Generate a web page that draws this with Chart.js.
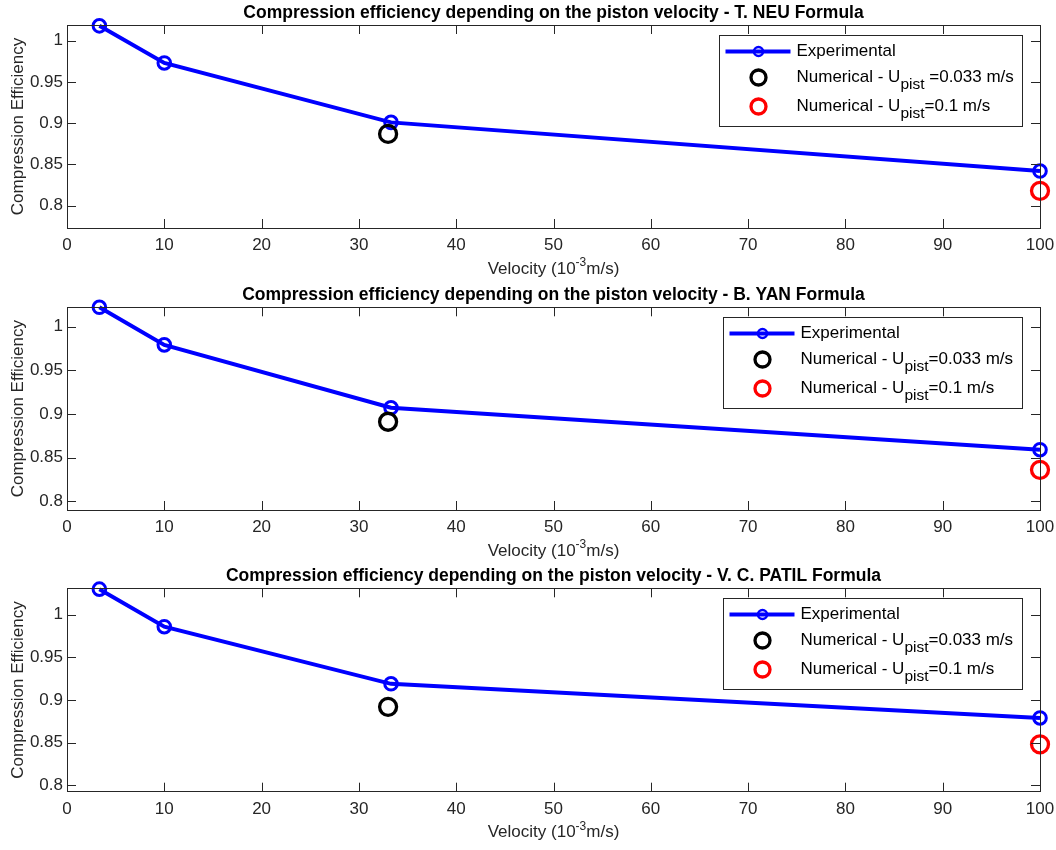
<!DOCTYPE html>
<html>
<head>
<meta charset="utf-8">
<script src="https://cdn.jsdelivr.net/npm/chart.js@4.4.1/dist/chart.umd.min.js"></script>
<style>
  body { margin: 0; background: #fff; }
  canvas { display: block; }
</style>
</head>
<body>
<canvas id="neu" width="1056" height="285"></canvas>
<canvas id="yan" width="1056" height="280"></canvas>
<canvas id="patil" width="1056" height="285"></canvas>
<script>
// piston velocity (10^-3 m/s)
const velocity = [3.33, 10, 33.3, 100];
const expNeu = [1.018, 0.973, 0.901, 0.842];
const expYan = [1.022, 0.979, 0.907, 0.859];
const expPatil = [1.030, 0.986, 0.919, 0.879];

// numerical results, one value per formula (NEU, YAN, PATIL)
const slowVelocity = 33;
const fastVelocity = 100;
const numSlow = [0.887, 0.891, 0.892];
const numFast = [0.818, 0.836, 0.848];

const xTicks = [0, 10, 20, 30, 40, 50, 60, 70, 80, 90, 100];
const yTicks = [0.8, 0.85, 0.9, 0.95, 1];

const titles = [
    "Compression efficiency depending on the piston velocity - T. NEU Formula",
    "Compression efficiency depending on the piston velocity - B. YAN Formula",
    "Compression efficiency depending on the piston velocity - V. C. PATIL Formula"
];
const slowLabels = ["=0.033 m/s", "=0.033 m/s", "=0.033 m/s"];
const slowGap = [true, false, false];   // first plot has a space before "="

const FONT = "'Liberation Sans', Arial, Helvetica, sans-serif";
const AXIS_COLOR = "#262626";
Chart.defaults.font.family = FONT;

// draws box, inward ticks, titles and the legend the way matlab does
const matlabAxes = {
    id: "matlabAxes",
    afterDraw(chart, args, opts) {
        const ctx = chart.ctx;
        const a = chart.chartArea;
        const xs = chart.scales.x, ys = chart.scales.y;
        ctx.save();
        ctx.strokeStyle = AXIS_COLOR;
        ctx.lineWidth = 1;
        ctx.strokeRect(Math.round(a.left) + 0.5, Math.round(a.top) + 0.5,
                       Math.round(a.right - a.left), Math.round(a.bottom - a.top));
        ctx.beginPath();
        xTicks.forEach(v => {
            const px = Math.round(xs.getPixelForValue(v)) + 0.5;
            ctx.moveTo(px, a.bottom); ctx.lineTo(px, a.bottom - 9);
            ctx.moveTo(px, a.top); ctx.lineTo(px, a.top + 9);
        });
        yTicks.forEach(v => {
            const py = Math.round(ys.getPixelForValue(v)) + 0.5;
            ctx.moveTo(a.left, py); ctx.lineTo(a.left + 9, py);
            ctx.moveTo(a.right, py); ctx.lineTo(a.right - 9, py);
        });
        ctx.stroke();

        const cx = (a.left + a.right) / 2;
        // title
        ctx.fillStyle = "#000";
        ctx.font = "bold 17.5px " + FONT;
        ctx.textAlign = "center";
        ctx.textBaseline = "middle";
        ctx.fillText(opts.title, cx, a.top - 12);

        // y label
        ctx.fillStyle = AXIS_COLOR;
        ctx.font = "17px " + FONT;
        ctx.save();
        ctx.translate(18, (a.top + a.bottom) / 2);
        ctx.rotate(-Math.PI / 2);
        ctx.fillText("Compression Efficiency", 0, 0);
        ctx.restore();

        // x label with superscript
        const big = "17px " + FONT, small = "12px " + FONT;
        ctx.font = big;
        const w1 = ctx.measureText("Velocity (10").width;
        const w3 = ctx.measureText("m/s)").width;
        ctx.font = small;
        const w2 = ctx.measureText("-3").width;
        let x = cx - (w1 + w2 + w3) / 2;
        const y = a.bottom + 41;
        ctx.textAlign = "left";
        ctx.font = big; ctx.fillText("Velocity (10", x, y); x += w1;
        ctx.font = small; ctx.fillText("-3", x, y - 6); x += w2;
        ctx.font = big; ctx.fillText("m/s)", x, y);

        // legend
        const sub = "15.5px " + FONT;
        const rowText = [
            [["Experimental", big, 0]],
            [["Numerical - U", big, 0], ["pist", sub, 7], [(opts.gap ? " " : "") + opts.slow, big, 0]],
            [["Numerical - U", big, 0], ["pist", sub, 7], ["=0.1 m/s", big, 0]]
        ];
        const widths = rowText.map(r => r.reduce((s, p) => { ctx.font = p[1]; return s + ctx.measureText(p[0]).width; }, 0));
        const boxW = Math.round(77 + Math.max(...widths) + 9);
        const boxH = 91;
        const L = Math.round(a.right - 18 - boxW) + 0.5;
        const T = Math.round(a.top + 10) + 0.5;
        ctx.fillStyle = "#fff";
        ctx.fillRect(L, T, boxW, boxH);
        ctx.strokeStyle = AXIS_COLOR;
        ctx.strokeRect(L, T, boxW, boxH);
        const rowsY = [T + 16, T + 42, T + 71];
        // experimental marker
        ctx.strokeStyle = "#0000ff";
        ctx.lineWidth = 4;
        ctx.beginPath(); ctx.moveTo(L + 6, rowsY[0]); ctx.lineTo(L + 71, rowsY[0]); ctx.stroke();
        ctx.lineWidth = 2.5;
        ctx.beginPath(); ctx.arc(L + 39, rowsY[0], 4.5, 0, Math.PI * 2); ctx.stroke();
        ctx.lineWidth = 3.3;
        ctx.strokeStyle = "#000";
        ctx.beginPath(); ctx.arc(L + 39, rowsY[1], 7.5, 0, Math.PI * 2); ctx.stroke();
        ctx.strokeStyle = "#ff0000";
        ctx.beginPath(); ctx.arc(L + 39, rowsY[2], 7.5, 0, Math.PI * 2); ctx.stroke();
        ctx.fillStyle = "#000";
        rowText.forEach((r, i) => {
            let tx = L + 77;
            r.forEach(p => {
                ctx.font = p[1];
                ctx.fillText(p[0], tx, rowsY[i] + p[2]);
                tx += ctx.measureText(p[0]).width;
            });
        });
        ctx.restore();
    }
};

function makeChart(id, idx, expValues, yMin, yMax, topPad, xAxisHeight) {
    const experimental = velocity.map((v, i) => ({ x: v, y: expValues[i] }));
    return new Chart(document.getElementById(id), {
        type: "scatter",
        data: {
            datasets: [
                {
                    label: "Experimental",
                    data: experimental,
                    showLine: true,
                    borderColor: "#0000ff",
                    borderWidth: 4,
                    pointRadius: 6.3,
                    pointBorderWidth: 3,
                    pointBorderColor: "#0000ff",
                    pointBackgroundColor: "rgba(0,0,0,0)",
                    clip: false,
                    order: 1
                },
                {
                    label: "Numerical slow",
                    data: [{ x: slowVelocity, y: numSlow[idx] }],
                    pointRadius: 8.5,
                    pointBorderWidth: 3.3,
                    pointBorderColor: "#000",
                    pointBackgroundColor: "rgba(0,0,0,0)",
                    clip: false,
                    order: 0
                },
                {
                    label: "Numerical fast",
                    data: [{ x: fastVelocity, y: numFast[idx] }],
                    pointRadius: 8.5,
                    pointBorderWidth: 3.3,
                    pointBorderColor: "#ff0000",
                    pointBackgroundColor: "rgba(0,0,0,0)",
                    clip: false,
                    order: 0
                }
            ]
        },
        options: {
            responsive: false,
            animation: false,
            events: [],
            layout: { padding: { top: topPad, right: 16, left: 0, bottom: 0 } },
            plugins: {
                legend: { display: false },
                title: { display: false },
                tooltip: { enabled: false },
                matlabAxes: { title: titles[idx], slow: slowLabels[idx], gap: slowGap[idx] }
            },
            scales: {
                x: {
                    type: "linear", min: 0, max: 100,
                    grid: { display: false, drawTicks: false },
                    border: { display: false },
                    afterBuildTicks: s => { s.ticks = xTicks.map(v => ({ value: v })); },
                    afterFit: s => { s.height = xAxisHeight; s.paddingLeft = 0; s.paddingRight = 0; },
                    ticks: { color: AXIS_COLOR, font: { size: 17 }, padding: 7, autoSkip: false, maxRotation: 0 }
                },
                y: {
                    type: "linear", min: yMin, max: yMax,
                    grid: { display: false, drawTicks: false },
                    border: { display: false },
                    afterBuildTicks: s => { s.ticks = yTicks.map(v => ({ value: v })); },
                    afterFit: s => { s.width = 67; s.paddingTop = 0; s.paddingBottom = 0; },
                    ticks: { color: AXIS_COLOR, font: { size: 17 }, padding: 4,
                             callback: v => String(+v.toFixed(2)) }
                }
            }
        },
        plugins: [matlabAxes]
    });
}

makeChart("neu", 0, expNeu, 0.773, 1.019, 25, 57);
makeChart("yan", 1, expYan, 0.790, 1.022, 22.3, 55);
makeChart("patil", 2, expPatil, 0.7925, 1.031, 23.3, 58.3);
</script>
</body>
</html>
